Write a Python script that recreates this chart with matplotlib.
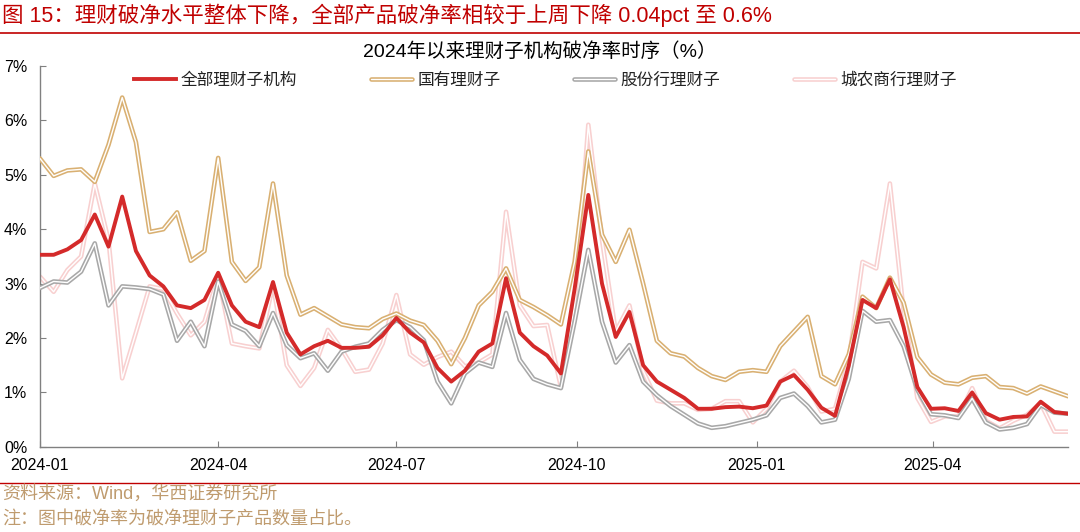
import matplotlib
matplotlib.use('Agg')
import matplotlib.pyplot as plt
import matplotlib.dates as mdates
import matplotlib.patheffects as pe
import matplotlib.ticker as mticker
from matplotlib.lines import Line2D
import pandas as pd

plt.rcParams['font.family'] = ['Liberation Sans', 'Noto Sans CJK SC']

# 周度数据，2024-01 起
dates = pd.date_range('2024-01-01', periods=76, freq='7D')

# 全部理财子机构（%）
all_inst = [3.53, 3.53, 3.63, 3.8, 4.27, 3.68, 4.6, 3.6, 3.15, 2.95,
            2.6, 2.55, 2.7, 3.2, 2.6, 2.3, 2.2, 3.03, 2.1, 1.7,
            1.85, 1.95, 1.82, 1.82, 1.84, 2.05, 2.37, 2.1, 1.92, 1.45,
            1.2, 1.4, 1.75, 1.9, 3.1, 2.1, 1.85, 1.68, 1.35, 2.9,
            4.63, 3.0, 2.02, 2.48, 1.5, 1.2, 1.05, 0.9, 0.7, 0.7,
            0.73, 0.74, 0.71, 0.76, 1.2, 1.32, 1.05, 0.72, 0.57, 1.5,
            2.7, 2.55, 3.08, 2.2, 1.1, 0.7, 0.71, 0.66, 1.0, 0.62,
            0.5, 0.55, 0.56, 0.83, 0.64, 0.61]
# 国有理财子
state_owned = [5.30, 4.98, 5.08, 5.1, 4.87, 5.55, 6.42, 5.6, 3.95, 4.0,
               4.31, 3.42, 3.6, 5.31, 3.4, 3.05, 3.3, 4.84, 3.15, 2.43,
               2.55, 2.4, 2.25, 2.2, 2.18, 2.35, 2.45, 2.32, 2.24, 1.95,
               1.52, 2.0, 2.6, 2.85, 3.28, 2.7, 2.57, 2.42, 2.25, 3.4,
               5.43, 3.9, 3.4, 3.99, 3.0, 1.95, 1.72, 1.66, 1.45, 1.3,
               1.23, 1.38, 1.41, 1.38, 1.85, 2.12, 2.39, 1.3, 1.15, 1.7,
               2.76, 2.55, 3.11, 2.65, 1.65, 1.33, 1.18, 1.15, 1.27, 1.3,
               1.1, 1.08, 0.98, 1.11, 1.02, 0.93]
# 股份行理财子
joint_stock = [2.92, 3.04, 3.02, 3.22, 3.74, 2.6, 2.95, 2.93, 2.9, 2.8,
               1.95, 2.3, 1.85, 3.04, 2.25, 2.13, 1.85, 2.46, 1.87, 1.63,
               1.72, 1.4, 1.75, 1.84, 1.9, 2.15, 2.33, 2.2, 1.96, 1.2,
               0.8, 1.35, 1.55, 1.47, 2.46, 1.6, 1.25, 1.15, 1.08, 2.3,
               3.62, 2.3, 1.55, 1.87, 1.2, 0.95, 0.75, 0.59, 0.43, 0.35,
               0.38, 0.44, 0.5, 0.58, 0.9, 0.98, 0.75, 0.45, 0.5, 1.25,
               2.5, 2.3, 2.33, 1.85, 1.05, 0.6, 0.58, 0.53, 0.89, 0.45,
               0.32, 0.35, 0.42, 0.77, 0.63, 0.61]
# 城农商行理财子
rural_city = [3.13, 2.85, 3.25, 3.5, 4.84, 3.8, 1.26, 2.1, 2.95, 2.9,
              2.45, 2.05, 2.3, 3.13, 1.9, 1.85, 1.81, 2.98, 1.5, 1.12,
              1.45, 2.15, 1.8, 1.38, 1.42, 1.9, 2.79, 1.7, 1.51, 1.65,
              1.75, 1.48, 1.55, 1.7, 4.32, 2.6, 2.22, 2.24, 1.1, 2.6,
              5.92, 3.8, 2.12, 2.6, 1.4, 0.85, 0.8, 0.8, 0.68, 0.7,
              0.84, 0.84, 0.45, 0.7, 1.2, 1.4, 1.1, 0.65, 0.7, 1.6,
              3.4, 3.28, 4.84, 2.5, 0.9, 0.46, 0.56, 0.56, 1.08, 0.48,
              0.34, 0.48, 0.59, 0.8, 0.28, 0.28]

xticks = pd.to_datetime(['2024-01-01', '2024-04-01', '2024-07-01',
                         '2024-10-01', '2025-01-01', '2025-04-01'])

fig = plt.figure(figsize=(10.8, 5.32), dpi=100)
ax = fig.add_axes([0.037, 0.16, 0.952, 0.716])


def double_line(y, color, label, z):
    # 空心双线效果：外层彩色，内层白色
    ln, = ax.plot(dates, y, color='white', lw=1.0, label=label, zorder=z,
                  solid_joinstyle='round', solid_capstyle='round',
                  path_effects=[pe.Stroke(linewidth=3.3, foreground=color),
                                pe.Normal()])
    return ln


l4 = double_line(rural_city, '#F8D0D0', '城农商行理财子', 2)
l3 = double_line(joint_stock, '#A8A8A8', '股份行理财子', 3)
l2 = double_line(state_owned, '#D9B072', '国有理财子', 4)
l1, = ax.plot(dates, all_inst, color='#D42A2A', lw=2.8, label='全部理财子机构',
              zorder=5, solid_joinstyle='round')

ax.set_xlim(dates[0], dates[-1])
ax.set_ylim(0, 7)
ax.set_yticks(range(0, 8))
ax.yaxis.set_major_formatter(mticker.FormatStrFormatter('%d%%'))
ax.set_xticks(xticks)
ax.xaxis.set_major_formatter(mdates.DateFormatter('%Y-%m'))

for s in ['top', 'right']:
    ax.spines[s].set_visible(False)
for s in ['left', 'bottom']:
    ax.spines[s].set_color('#808080')
    ax.spines[s].set_linewidth(1.0)
ax.tick_params(axis='both', direction='in', length=4, color='#808080',
               labelsize=11.5, labelcolor='black')
ax.tick_params(axis='y', pad=9)
ax.tick_params(axis='x', pad=8)

fig.legend(handles=[l1, l2, l3, l4], loc='center', bbox_to_anchor=(0.505, 0.85),
           ncol=4, frameon=False, fontsize=12, handlelength=2.5,
           handletextpad=0.3, columnspacing=4.4, labelcolor='#222222')

fig.text(0.5, 0.903, '2024年以来理财子机构破净率时序（%）', ha='center',
         va='center', fontsize=14)

# 页眉与页脚
fig.text(0.002, 0.972, '图 15：理财破净水平整体下降，全部产品破净率相较于上周下降 0.04pct 至 0.6%',
         ha='left', va='center', fontsize=15.5, color='#C00000')
fig.add_artist(Line2D([0, 1], [0.938, 0.938], transform=fig.transFigure,
                      color='#C00000', lw=1.2))
fig.add_artist(Line2D([0, 1], [0.092, 0.092], transform=fig.transFigure,
                      color='#C00000', lw=1.0))
fig.text(0.002, 0.071, '资料来源：Wind，华西证券研究所', ha='left', va='center',
         fontsize=13, color='#BF9B6E')
fig.text(0.002, 0.023, '注：图中破净率为破净理财子产品数量占比。', ha='left',
         va='center', fontsize=13, color='#BF9B6E')

fig.savefig('out.png', dpi=100)
